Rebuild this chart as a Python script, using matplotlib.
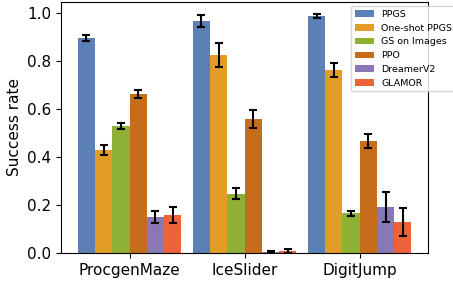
import matplotlib
matplotlib.use("Agg")
import matplotlib.pyplot as plt
import numpy as np

envs = ["ProcgenMaze", "IceSlider", "DigitJump"]
methods = ["PPGS", "One-shot PPGS", "GS on Images", "PPO", "DreamerV2", "GLAMOR"]
colors = ["#5b80b6", "#e29d26", "#8db035", "#c56d1a", "#8a78b5", "#ec6339"]

ppgs = [0.897, 0.967, 0.988]
oneshot = [0.430, 0.825, 0.763]
gs_images = [0.529, 0.246, 0.165]
ppo = [0.664, 0.558, 0.467]
dreamer = [0.151, 0.004, 0.192]
glamor = [0.158, 0.008, 0.129]

ppgs_err = [0.012, 0.025, 0.008]
oneshot_err = [0.020, 0.052, 0.029]
gs_images_err = [0.013, 0.023, 0.010]
ppo_err = [0.017, 0.039, 0.030]
dreamer_err = [0.025, 0.005, 0.062]
glamor_err = [0.034, 0.009, 0.060]

values = [ppgs, oneshot, gs_images, ppo, dreamer, glamor]
errors = [ppgs_err, oneshot_err, gs_images_err, ppo_err, dreamer_err, glamor_err]

fig = plt.figure(figsize=(4.53, 2.83), dpi=100)
ax = fig.add_axes([0.135, 0.106, 0.810, 0.887])

x = np.arange(len(envs))
w = 0.15
for i, (m, v, e, c) in enumerate(zip(methods, values, errors, colors)):
    ax.bar(x + (i - 2.5) * w, v, w, yerr=e, color=c, label=m,
           error_kw=dict(ecolor="black", elinewidth=1.5, capsize=3, capthick=1.5))

ax.set_xticks(x)
ax.set_xticklabels(envs, fontsize=11)
ax.tick_params(axis="y", labelsize=11)
ax.set_ylabel("Success rate", fontsize=11)
ax.set_ylim(0, 1.046)

fig.legend(loc="upper left", bbox_to_anchor=(0.775, 0.978), fontsize=6.8,
           handlelength=2.0, framealpha=0.8, borderaxespad=0)

fig.savefig("out.png", dpi=100)
